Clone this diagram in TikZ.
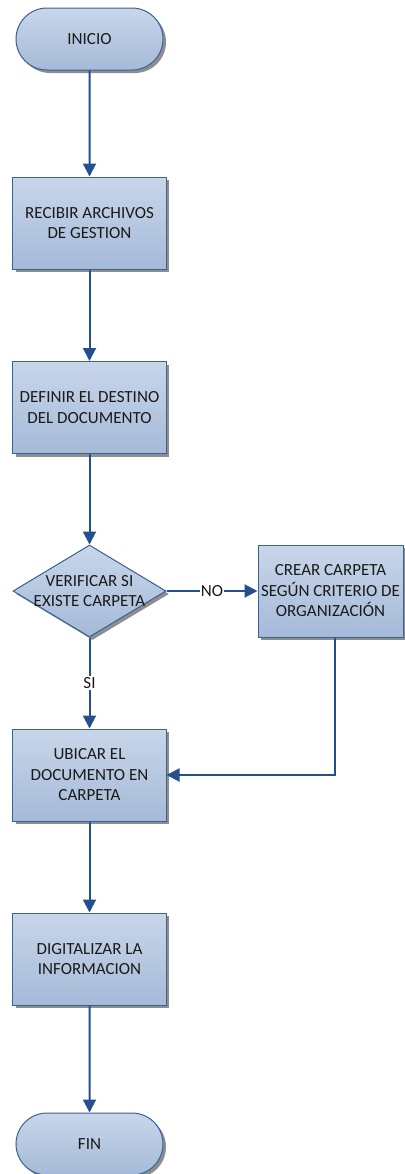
\documentclass[tikz,border=0pt]{standalone}
\usepackage{fontspec}
\setmainfont{Carlito}
\usetikzlibrary{shapes.misc,shapes.geometric,shadows,arrows.meta}
\definecolor{boxtop}{HTML}{C8D6E9}
\definecolor{boxbot}{HTML}{A5BAD8}
\definecolor{edgeblue}{HTML}{3C6195}
\definecolor{linkblue}{HTML}{24508D}
\definecolor{shadegray}{HTML}{8E8E8E}
\definecolor{txt}{HTML}{1A1A1A}

\begin{document}
\begin{tikzpicture}[x=1bp,y=-1bp,
  labelfont/.style={font=\fontsize{17bp}{20.5bp}\selectfont, text=txt},
  shapebase/.style={draw=edgeblue, line width=1bp, top color=boxtop, bottom color=boxbot,
    align=center, inner sep=3bp, labelfont,
    drop shadow={shadow xshift=3bp, shadow yshift=-3bp, fill=shadegray, opacity=1}},
  term/.style={shapebase, rounded rectangle, minimum width=153bp, minimum height=62bp},
  proc/.style={shapebase, rectangle, minimum width=153bp, minimum height=92bp},
  decide/.style={shapebase, diamond, minimum width=153bp, minimum height=92bp, inner sep=0pt},
  caption/.style={align=center, labelfont},
  link/.style={draw=linkblue, line width=2bp, -{Triangle[length=13bp,width=13bp]}},
  tag/.style={fill=white, inner sep=1bp, labelfont}]

\useasboundingbox (0,0) rectangle (404,1174);

% process steps
\node[term] (start) at (89.5,39) {INICIO};
\node[proc] (recv) at (89.5,223) {RECIBIR ARCHIVOS\\DE GESTION};
\node[proc] (dest) at (89.5,407.5) {DEFINIR EL DESTINO\\DEL DOCUMENTO};
\node[decide] (check) at (89.5,591) {};
\node[caption] (checktext) at (check.center) {VERIFICAR SI\\EXISTE CARPETA};
\node[proc, minimum width=145bp] (make) at (330.5,591) {CREAR CARPETA\\SEGÚN CRITERIO DE\\ORGANIZACIÓN};
\node[proc] (place) at (89.5,775) {UBICAR EL\\DOCUMENTO EN\\CARPETA};
\node[proc] (scan) at (89.5,959) {DIGITALIZAR LA\\INFORMACION};
\node[term] (finish) at (89.5,1144) {FIN};

% connectors
\draw[link] (start) -- (recv);
\draw[link] (recv) -- (dest);
\draw[link] (dest) -- (check);
\draw[link] (check) -- node[tag] (nolabel) {NO} (make);
\draw[link] (check) -- node[tag] (silabel) {SI} (place);
\draw[link] ([xshift=4.5bp]make.south) |- (place.east);
\draw[link] (place) -- (scan);
\draw[link] (scan) -- (finish);
\end{tikzpicture}
\end{document}
